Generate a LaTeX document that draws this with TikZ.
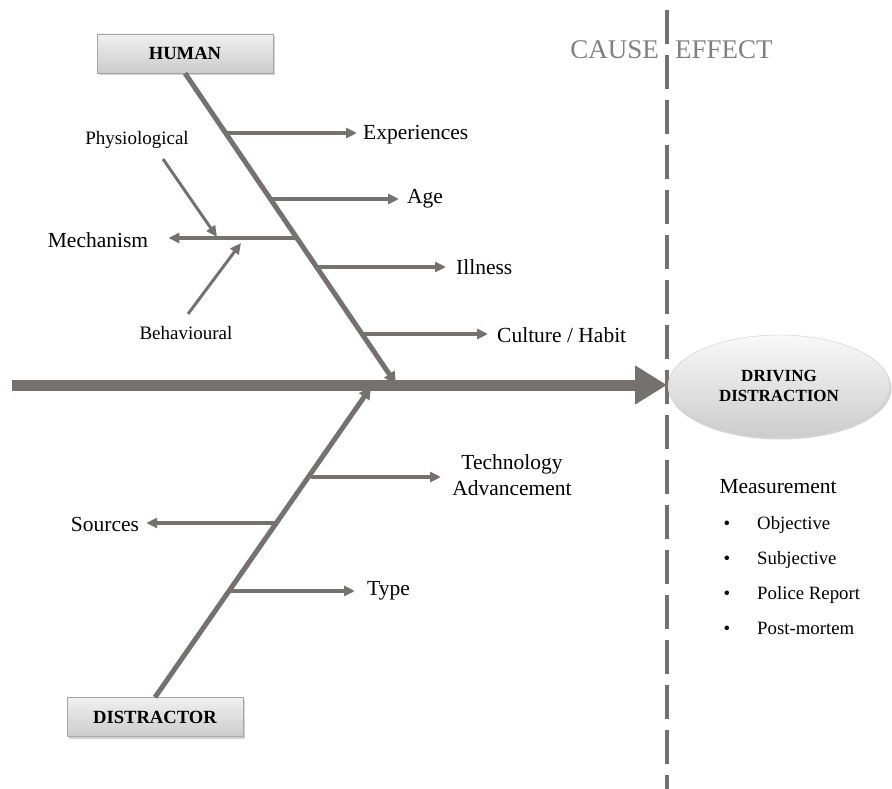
\documentclass[tikz,border=0pt]{standalone}
\usepackage{fontspec}
\setmainfont{Liberation Serif}
\usepackage{tikz}
\usetikzlibrary{arrows.meta,shapes,backgrounds,positioning,shadows}
\definecolor{bonegray}{RGB}{118,113,113}
\definecolor{capgray}{RGB}{128,128,128}
\tikzset{
  category/.style = {draw=gray!70, thin, minimum width=176pt, minimum height=39pt,
                     top color=gray!12, bottom color=gray!40,
                     drop shadow={shadow xshift=1.5pt, shadow yshift=-2pt, opacity=.35},
                     font=\fontsize{18.6}{21}\selectfont\bfseries},
  effect/.style   = {ellipse, draw=gray!40, thin, minimum width=222pt, minimum height=102pt,
                     top color=gray!5, bottom color=gray!40, align=center,
                     drop shadow={shadow xshift=1.5pt, shadow yshift=-2.5pt, opacity=.35},
                     font=\fontsize{17}{20}\selectfont\bfseries},
  cause/.style    = {font=\fontsize{21.5}{26}\selectfont, inner sep=0pt, align=center},
  subcause/.style = {font=\fontsize{19}{22}\selectfont, inner sep=0pt},
  heading/.style  = {font=\fontsize{27}{30}\selectfont, text=capgray, fill=white, inner sep=2pt},
  measure/.style  = {font=\fontsize{18.8}{22}\selectfont, inner sep=0pt},
  bone/.style     = {draw=bonegray, line width=5pt, -{Triangle[length=12pt,width=12pt]}},
  branch/.style   = {draw=bonegray, line width=4pt, -{Triangle[length=11pt,width=10pt]}},
}

\begin{document}
\begin{tikzpicture}[x=1pt, y=-1pt]
  \useasboundingbox (0,0) rectangle (892,789);
  %dividing line between cause and effect
  \coordinate (divtop) at (667,10);
  \coordinate (divbot) at (667,789);
  \draw[bonegray, line width=4pt, dash pattern=on 34pt off 11pt] (divtop) -- (divbot);
  \node[heading, anchor=east] (cause) at (661,50) {CAUSE};
  \node[heading, anchor=west] (effect) at (673,50) {EFFECT};

  %spine
  \coordinate (tail) at (12,385);
  \coordinate (head) at (667,385);
  \draw[draw=bonegray, line width=11pt, -{Triangle[length=32pt,width=37pt]}] (tail) -- (head);
  \node[effect] (distraction) at (779,386) {DRIVING\\DISTRACTION};

  %categories
  \node[category] (human) at (185,53.5) {HUMAN};
  \node[category] (distractor) at (155,717) {DISTRACTOR};
  \coordinate (humanend) at (396,384);
  \coordinate (distend) at (371,387);
  \draw[bone] (human.south) -- (humanend);
  \draw[bone] (distractor.north) -- (distend);

  %human causes
  \node[cause, anchor=west] (experiences) at (363,135) {Experiences};
  \node[cause, anchor=west] (age) at (407,199) {Age};
  \node[cause, anchor=west] (illness) at (456,267) {Illness};
  \node[cause, anchor=west] (culture) at (497,335) {Culture / Habit};
  \node[cause] (mechanism) at (98,240) {Mechanism};
  \node[subcause] (physio) at (137,140) {Physiological};
  \node[subcause] (behave) at (186,333) {Behavioural};
  \coordinate (h1) at (226,133);
  \coordinate (h2) at (270,199);
  \coordinate (h3) at (297,238);
  \coordinate (h4) at (317,267);
  \coordinate (h5) at (362,334);
  \coordinate (p0) at (163,159);
  \coordinate (b0) at (188,314);
  \coordinate (m1) at (217,237);
  \coordinate (m2) at (241,243);
  \draw[branch, shorten >=6pt] (h1) -- (h1 -| experiences.west);
  \draw[branch, shorten >=8pt] (h2) -- (h2 -| age.west);
  \draw[branch, shorten >=10pt] (h4) -- (h4 -| illness.west);
  \draw[branch, shorten >=9pt] (h5) -- (h5 -| culture.west);
  \draw[branch, shorten >=20pt] (h3) -- (h3 -| mechanism.east);
  \draw[branch, line width=3pt] (p0) -- (m1);
  \draw[branch, line width=3pt] (b0) -- (m2);

  %distractor causes
  \node[cause] (technology) at (512,475) {Technology\\Advancement};
  \node[cause] (sources) at (105,524) {Sources};
  \node[cause, anchor=west] (type) at (367,591) {Type};
  \coordinate (d1) at (311,477);
  \coordinate (d2) at (275,523);
  \coordinate (d3) at (230,591);
  \draw[branch] (d1) -- (441,477);
  \draw[branch, shorten >=7pt] (d2) -- (d2 -| sources.east);
  \draw[branch, shorten >=12pt] (d3) -- (d3 -| type.west);

  %measurement
  \node[cause] (measurement) at (778,487) {Measurement};
  \foreach \y/\txt [count=\i] in {529/Objective, 564/Subjective, 599/Police Report, 634/Post-mortem}{
    \node[measure, anchor=base west] (item\i) at (757,\y) {\txt};
    \node[measure, anchor=base] (bullet\i) at (727,\y) {\textbullet};
  }
\end{tikzpicture}
\end{document}
